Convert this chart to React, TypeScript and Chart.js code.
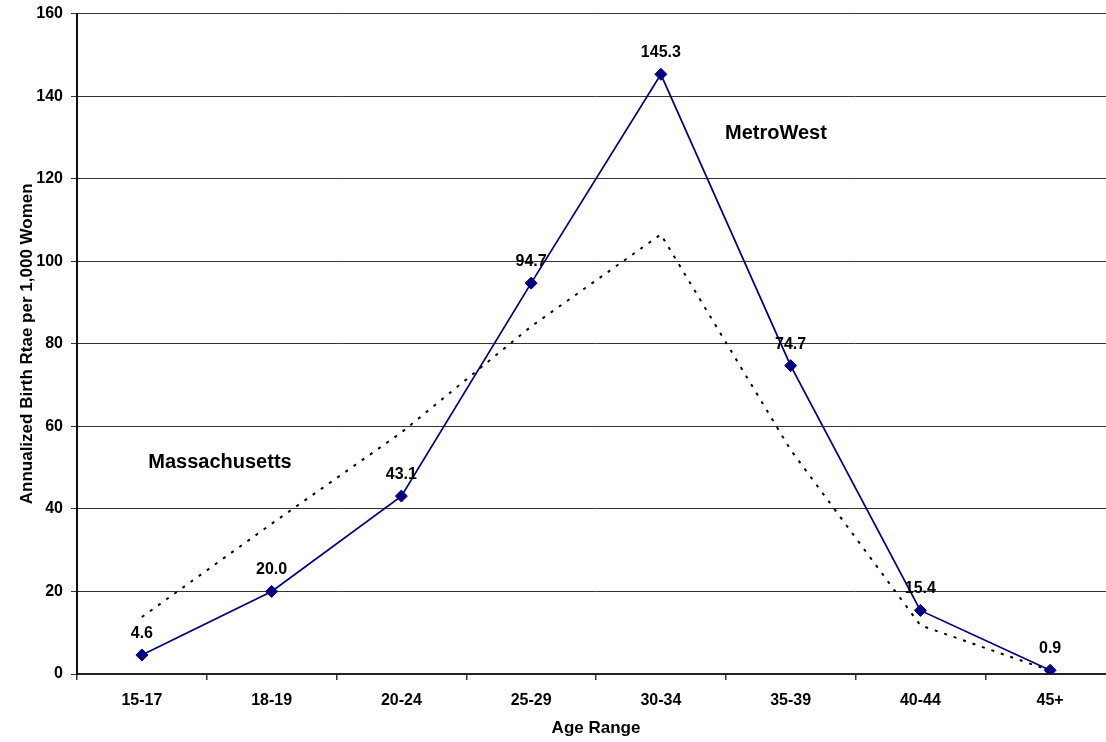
import React, { useEffect, useRef } from "react";
import { Chart, registerables } from "chart.js";

Chart.register(...registerables);

// Age groups along the horizontal axis
const ageRanges = ["15-17", "18-19", "20-24", "25-29", "30-34", "35-39", "40-44", "45+"];

// Annualized birth rate per 1,000 women
const metroWestRates = [4.6, 20.0, 43.1, 94.7, 145.3, 74.7, 15.4, 0.9];
const massachusettsRates = [13.8, 36.4, 58.5, 84.2, 106.5, 54.3, 11.8, 0.8];

// Value axis ticks
const yTicks = [0, 20, 40, 60, 80, 100, 120, 140, 160];

const FONT = "'Liberation Sans', Arial, Helvetica, sans-serif";
const NAVY = "#000080";

// Writes each MetroWest value above its marker, plus the series names on the plot
const labelPlugin = {
  id: "valueLabels",
  afterDatasetsDraw(chart: any) {
    const { ctx, scales } = chart;
    const meta = chart.getDatasetMeta(0);
    ctx.save();
    ctx.fillStyle = "#000";
    ctx.font = `bold 16px ${FONT}`;
    ctx.textAlign = "center";
    ctx.textBaseline = "alphabetic";
    meta.data.forEach((pt: any, i: number) => {
      ctx.fillText(metroWestRates[i].toFixed(1), pt.x, pt.y - 17);
    });

    ctx.font = `bold 20px ${FONT}`;
    ctx.textBaseline = "middle";
    const names = [
      { text: "MetroWest", at: 4.887, value: 131 },
      { text: "Massachusetts", at: 0.602, value: 51.3 },
    ];
    names.forEach((n) => {
      ctx.fillText(n.text, scales.x.getPixelForValue(n.at), scales.y.getPixelForValue(n.value));
    });
    ctx.restore();
  },
};

export default function App() {
  const canvasRef = useRef<HTMLCanvasElement | null>(null);

  useEffect(() => {
    const canvas = canvasRef.current;
    if (!canvas) return;
    const chart = new Chart(canvas, {
      type: "line",
      data: {
        labels: ageRanges,
        datasets: [
          {
            label: "MetroWest",
            data: metroWestRates,
            borderColor: NAVY,
            backgroundColor: NAVY,
            borderWidth: 1.75,
            pointStyle: "rectRot",
            pointRadius: 6,
            pointBackgroundColor: NAVY,
            pointBorderColor: NAVY,
            pointBorderWidth: 1,
            tension: 0,
          },
          {
            label: "Massachusetts",
            data: massachusettsRates,
            borderColor: "#000",
            borderWidth: 2,
            borderDash: [3, 7],
            pointRadius: 0,
            tension: 0,
          },
        ],
      },
      options: {
        responsive: false,
        animation: false,
        devicePixelRatio: 1,
        layout: { padding: { top: 9, right: 0, bottom: 0, left: 0 } },
        plugins: {
          legend: { display: false },
          tooltip: { enabled: false },
        },
        scales: {
          x: {
            type: "category",
            offset: true,
            grid: {
              display: true,
              offset: true,
              drawOnChartArea: false,
              drawTicks: true,
              tickLength: 6,
              color: "#333",
              lineWidth: 1.5,
            },
            border: { display: true, color: "#222", width: 2 },
            ticks: {
              color: "#000",
              padding: 11,
              font: { family: FONT, size: 16, weight: "bold" },
              maxRotation: 0,
              autoSkip: false,
            },
            title: {
              display: true,
              text: "Age Range",
              color: "#000",
              font: { family: FONT, size: 17, weight: "bold" },
              padding: { top: 0, bottom: 3 },
            },
            afterFit(scale: any) {
              scale.height = 68;
            },
          },
          y: {
            min: 0,
            max: 160,
            afterBuildTicks(scale: any) {
              scale.ticks = yTicks.map((v) => ({ value: v }));
            },
            grid: {
              color: "#333",
              lineWidth: 1,
              tickLength: 6,
            },
            border: { display: true, color: "#111", width: 2 },
            ticks: {
              color: "#000",
              padding: 8,
              font: { family: FONT, size: 16, weight: "bold" },
            },
            title: {
              display: true,
              text: "Annualized Birth Rtae per 1,000 Women",
              color: "#000",
              font: { family: FONT, size: 17, weight: "bold" },
              padding: { top: 17, bottom: 0 },
            },
            afterFit(scale: any) {
              scale.width = 77;
            },
          },
        },
      },
      plugins: [labelPlugin],
    });
    return () => chart.destroy();
  }, []);

  return (
    <div
      style={{
        position: "fixed",
        left: 0,
        top: 0,
        width: "100vw",
        height: "100vh",
        overflow: "hidden",
        background: "#fff",
      }}
    >
      <canvas
        ref={canvasRef}
        width={1122}
        height={746}
        style={{ display: "block", marginTop: -4 }}
      />
    </div>
  );
}
